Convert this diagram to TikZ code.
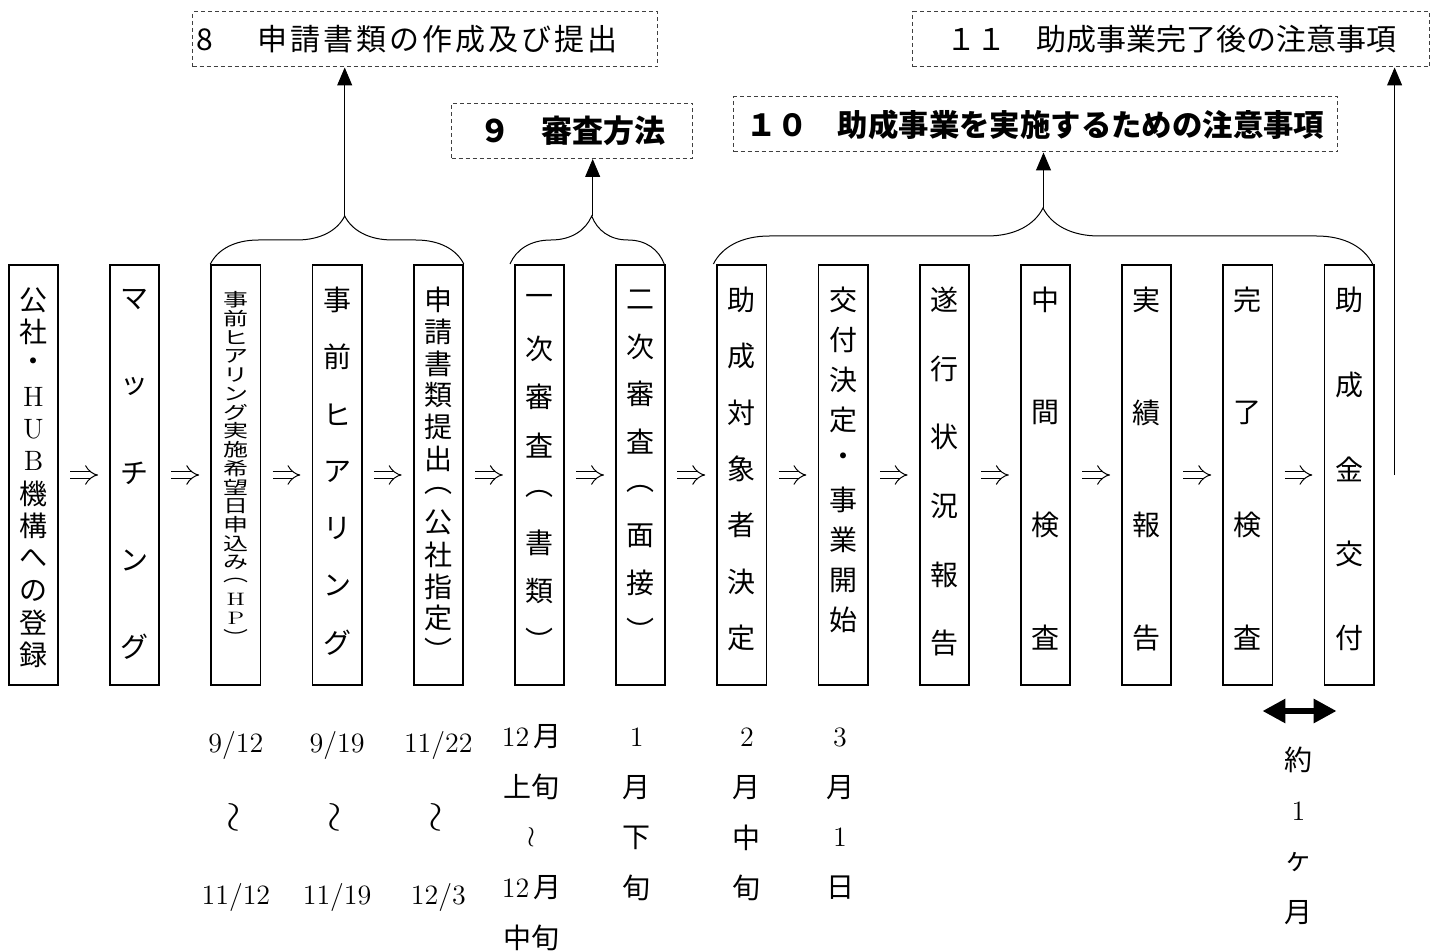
\documentclass[tikz,border=0pt]{standalone}
\usepackage{graphicx}
\usepackage{fontspec}
\newfontfamily\jp{Noto Sans CJK JP}
\newfontfamily\jphead[LetterSpace=10]{Noto Sans CJK JP}
\usetikzlibrary{positioning,calc,arrows.meta,decorations.pathreplacing}

\begin{document}
\begin{tikzpicture}[x=0.5pt,y=-0.5pt,
    stepbox/.style={draw,line width=0.9pt,minimum width=24.6pt,minimum height=210.1pt,inner sep=0pt},
    boxchar/.style={font=\jp\fontsize{14}{14}\selectfont,inner sep=0pt},
    smallchar/.style={font=\jp\fontsize{12.5}{12.5}\selectfont,inner sep=0pt},
    datechar/.style={font=\fontsize{14}{14}\selectfont,inner sep=0pt},
    wave/.style={font=\fontsize{22}{22}\selectfont,rotate=90,inner sep=0pt},
    headbox/.style={draw=black!75,dash pattern=on 2pt off 1.5pt,line width=0.5pt,minimum height=27.5pt,inner sep=0pt},
    imp/.style={double,double distance=3pt,line width=0.5pt,-{Implies},shorten <=5.6pt,shorten >=5.6pt},
    up/.style={line width=0.5pt,-{Triangle[width=7.5pt,length=9pt]}},
    curly/.style={line width=0.5pt,decorate,decoration={brace,amplitude=#1}},
    node distance=25.1pt]

  \useasboundingbox (0,0) rectangle (1441,952);

  % steps
  \node[stepbox] (s1) at (33.5,475) {};
  \node[stepbox,right=of s1] (s2) {};
  \node[stepbox,right=of s2] (s3) {};
  \node[stepbox,right=of s3] (s4) {};
  \node[stepbox,right=of s4] (s5) {};
  \node[stepbox,right=of s5] (s6) {};
  \node[stepbox,right=of s6] (s7) {};
  \node[stepbox,right=of s7] (s8) {};
  \node[stepbox,right=of s8] (s9) {};
  \node[stepbox,right=of s9] (s10) {};
  \node[stepbox,right=of s10] (s11) {};
  \node[stepbox,right=of s11] (s12) {};
  \node[stepbox,right=of s12] (s13) {};
  \node[stepbox,right=of s13] (s14) {};

  \foreach \i [evaluate=\i as \j using int(\i+1)] in {1,...,13}
    \draw[imp] (s\i) -- (s\j);

  % vertical texts
  \foreach \nm/\n/\last/\chars in {
      s1/12/655/{公,社,・,{\rmfamily H},{\rmfamily U},{\rmfamily B},機,構,へ,の,登,録},
      s2/5/647/{マ,ッ,チ,ン,グ},
      s4/7/643/{事,前,ヒ,ア,リ,ン,グ},
      s5/12/650/{申,請,書,類,提,出,︵,公,社,指,定,︶},
      s6/8/640/{一,次,審,査,︵,書,類,︶},
      s7/8/630/{二,次,審,査,︵,面,接,︶},
      s8/7/638/{助,成,対,象,者,決,定},
      s9/9/620/{交,付,決,定,・,事,業,開,始},
      s10/6/643/{遂,行,状,況,報,告},
      s11/4/638/{中,間,検,査},
      s12/4/638/{実,績,報,告},
      s13/4/638/{完,了,検,査},
      s14/5/638/{助,成,金,交,付}}
    \foreach \c [count=\i] in \chars
      \node[boxchar] at ($(\nm.north)+(0,{36+(\i-1)*(\last-300)/(\n-1)})$) {\c};

  \foreach \c [count=\i] in {事,前,ヒ,ア,リ,ン,グ,実,施,希,望,日,申,込,み,︵,{\rmfamily H},{\rmfamily P},︶}
    \node[smallchar] at ($(s3.north)+(0,{36+(\i-1)*337/18})$) {\scalebox{1}[.72]{\c}};

  % headings
  \node[headbox,minimum width=232.5pt,text width=229pt,align=left] (h8) at (425,39.5)
    {\jphead\fontsize{15}{15}\selectfont 8\hspace{6pt}　申請書類の作成及び提出};
  \node[headbox,minimum width=120.5pt,font=\jp\bfseries\fontsize{15.5}{15.5}\selectfont] (h9) at (572,131) {９　審査方法};
  \node[headbox,minimum width=302pt,font=\jp\bfseries\fontsize{15.2}{15.2}\selectfont] (h10) at (1035.5,124.5) {１０　助成事業を実施するための注意事項};
  \node[headbox,minimum width=258.5pt,font=\jp\fontsize{15}{15}\selectfont] (h11) at (1171,39.5) {１１　助成事業完了後の注意事項};

  % braces and arrows up
  \draw[curly=24pt,decoration={aspect=0.53}] (s3.north west) -- (s5.north east);
  \coordinate (t8) at ($(s3.north west)!0.53!(s5.north east)+(0,-48)$);
  \draw[up] (t8) -- (t8 |- h8.south);

  \draw[curly=24pt,decoration={aspect=0.53}] ($(s6.north west)+(-4,0)$) -- ($(s7.north east)+(-2,0)$);
  \coordinate (t9) at ($(s6.north west)!0.53!(s7.north east)+(-2,-48)$);
  \draw[up] (t9) -- (t9 |- h9.south);

  \draw[curly=28pt] ($(s8.north west)+(-3,0)$) -- ($(s14.north east)+(-2,0)$);
  \coordinate (t10) at ($(s8.north west)!0.5!(s14.north east)+(-2,-56)$);
  \draw[up] (t10) -- (t10 |- h10.south);

  \coordinate (e14) at ($(s14.east)+(20,0)$);
  \draw[up] (e14) -- (e14 |- h11.south);

  % dates
  \foreach \nm/\a/\b in {s3/{9/12}/{11/12},s4/{9/19}/{11/19},s5/{11/22}/{12/3}} {
    \node[datechar] at ($(\nm.south)+(0,59)$) {\a};
    \node[wave] at ($(\nm.south)+(0,131)$) {$\sim$};
    \node[datechar] at ($(\nm.south)+(0,211)$) {\b};
  }

  \foreach \nm/\dx/\items in {
      s6/-8/{12\kern2pt{\jp 月},{\jp 上旬},{$\wr$},12\kern2pt{\jp 月},{\jp 中旬}},
      s7/-4/{1,{\jp 月},{\jp 下},{\jp 旬}},
      s8/5/{2,{\jp 月},{\jp 中},{\jp 旬}},
      s9/-3/{3,{\jp 月},1,{\jp 日}}}
    \foreach \c [count=\i] in \items
      \node[datechar] at ($(\nm.south)+(\dx,{51+(\i-1)*50.3})$) {\c};

  % about one month
  \draw[{Triangle[width=11.5pt,length=11.5pt]}-{Triangle[width=11.5pt,length=11.5pt]},line width=3pt]
    ($(s13.south east)+(-11,25)$) -- ($(s14.south west)+(13,25)$);
  \foreach \c [count=\i] in {{\jp 約},1,{\jp ヶ},{\jp 月}}
    \node[datechar] at ($(s13.south east)!.5!(s14.south west)+(0,{74+(\i-1)*51})$) {\c};
\end{tikzpicture}
\end{document}
